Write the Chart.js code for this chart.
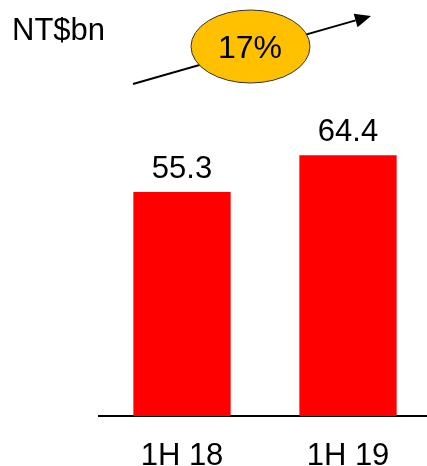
<!DOCTYPE html>
<html>
<head>
<meta charset="utf-8">
<script src="https://cdn.jsdelivr.net/npm/chart.js@4"></script>
<style>
  html, body { margin: 0; padding: 0; background: #fff; overflow: hidden; }
  #wrap { position: relative; width: 431px; height: 466px; }
</style>
</head>
<body>
<div id="wrap"><canvas id="revenueChart"></canvas></div>
<script>
// ===================== Data ===================

const periods = ['1H 18', '1H 19'];
const revenue = [55.3, 64.4];
const unitLabel = 'NT$bn';
const growthLabel = '17%';

const FONT = '"Liberation Sans", Arial, sans-serif';

// ===================== Plugins ===================

// value labels above each bar
const valueLabels = {
  id: 'valueLabels',
  afterDatasetsDraw(chart) {
    const ctx = chart.ctx;
    const meta = chart.getDatasetMeta(0);
    ctx.save();
    ctx.font = '31px ' + FONT;
    ctx.fillStyle = '#000';
    ctx.textAlign = 'center';
    ctx.textBaseline = 'alphabetic';
    meta.data.forEach((bar, i) => {
      ctx.fillText(revenue[i].toFixed(1), bar.x, bar.y - 14);
    });
    ctx.restore();
  }
};

// unit text, growth arrow and bubble
const growthArrow = {
  id: 'growthArrow',
  afterDraw(chart) {
    const ctx = chart.ctx;
    ctx.save();

    ctx.font = '31px ' + FONT;
    ctx.fillStyle = '#000';
    ctx.textAlign = 'left';
    ctx.textBaseline = 'alphabetic';
    ctx.fillText(unitLabel, 12, 40);

    // arrow
    const x0 = 133, y0 = 84, x1 = 371, y1 = 16;
    const ang = Math.atan2(y1 - y0, x1 - x0);
    const headLen = 16, headHalf = 7;
    ctx.strokeStyle = '#000';
    ctx.lineWidth = 2;
    ctx.beginPath();
    ctx.moveTo(x0, y0);
    ctx.lineTo(x1 - Math.cos(ang) * headLen, y1 - Math.sin(ang) * headLen);
    ctx.stroke();
    ctx.beginPath();
    ctx.moveTo(x1, y1);
    ctx.lineTo(x1 - Math.cos(ang) * headLen - Math.sin(ang) * headHalf,
               y1 - Math.sin(ang) * headLen + Math.cos(ang) * headHalf);
    ctx.lineTo(x1 - Math.cos(ang) * headLen + Math.sin(ang) * headHalf,
               y1 - Math.sin(ang) * headLen - Math.cos(ang) * headHalf);
    ctx.closePath();
    ctx.fillStyle = '#000';
    ctx.fill();

    // bubble
    ctx.beginPath();
    ctx.ellipse(250.5, 46.5, 59.5, 36.5, 0, 0, Math.PI * 2);
    ctx.fillStyle = '#FFC000';
    ctx.fill();
    ctx.lineWidth = 1;
    ctx.strokeStyle = '#333';
    ctx.stroke();

    ctx.fillStyle = '#000';
    ctx.textAlign = 'center';
    ctx.textBaseline = 'middle';
    ctx.font = '32px ' + FONT;
    ctx.fillText(growthLabel, 250, 49);

    ctx.restore();
  }
};

// ===================== Chart ===================

const chart = new Chart(document.getElementById('revenueChart'), {
  type: 'bar',
  data: {
    labels: periods,
    datasets: [{
      data: revenue,
      backgroundColor: '#FF0000',
      borderWidth: 0,
      categoryPercentage: 1,
      barPercentage: 0.586
    }]
  },
  options: {
    responsive: true,
    maintainAspectRatio: false,
    animation: false,
    layout: { padding: { top: 92, left: 99, right: 0, bottom: 0 } },
    plugins: {
      legend: { display: false },
      tooltip: { enabled: false }
    },
    scales: {
      x: {
        grid: { display: false },
        border: { display: true, color: '#000', width: 2 },
        ticks: {
          color: '#000',
          padding: 17,
          font: { family: FONT, size: 31, lineHeight: 1 }
        },
        afterFit(scale) { scale.height = 50; }
      },
      y: {
        display: false,
        min: 0,
        max: 80
      }
    }
  },
  plugins: [valueLabels, growthArrow]
});
</script>
</body>
</html>
